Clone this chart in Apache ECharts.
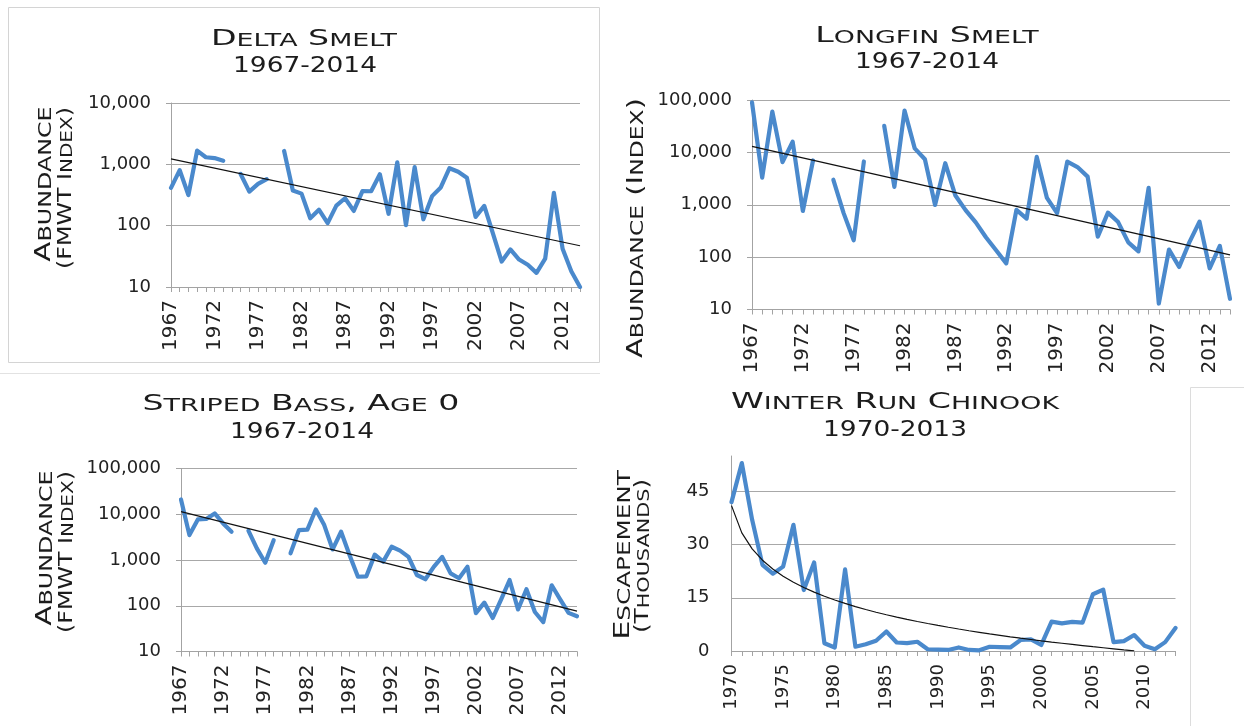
<!DOCTYPE html>
<html>
<head>
<meta charset="utf-8">
<script src="https://cdn.jsdelivr.net/npm/echarts@6/dist/echarts.min.js"></script>
<style>
html,body{margin:0;padding:0;background:#ffffff;}
#chart{width:1244px;height:726px;}
</style>
</head>
<body>
<div id="chart"></div>
<script>
// ---------- categories ----------
const yearsSmelt = [];            // 1967 .. 2014
for (let y = 1967; y <= 2014; y++) yearsSmelt.push(String(y));
const yearsChinook = [];          // 1970 .. 2013
for (let y = 1970; y <= 2013; y++) yearsChinook.push(String(y));

// ---------- series values ----------
const deltaSmelt = [414, 806, 316, 1673, 1303, 1265, 1145, null, 697, 359, 480, 572, null,
  1654, 374, 333, 132, 182, 110, 212, 280, 174, 366, 364, 689, 156, 1078, 102, 899, 127,
  303, 420, 864, 756, 603, 139, 210, 74, 26, 41, 28, 23, 17, 29, 343, 42, 18, 10];
const deltaTrend = [1230, null, null, null, null, null, null, null, null, null, null, null, null,
  null, null, null, null, null, null, null, null, null, null, null, null, null, null, null, null, null,
  null, null, null, null, null, null, null, null, null, null, null, null, null, null, null, null, null, 47];

const longfinSmelt = [90000, 3300, 60000, 6500, 16000, 760, 7000, null, 3000, 700, 210, 6700, null,
  32000, 2200, 63000, 11900, 7400, 990, 6200, 1500, 790, 460, 240, 135, 76, 800, 545, 8200, 1350,
  690, 6650, 5240, 3440, 247, 707, 467, 191, 129, 2100, 13, 139, 65, 191, 477, 61, 164, 16];
const longfinTrend = [13000, null, null, null, null, null, null, null, null, null, null, null, null,
  null, null, null, null, null, null, null, null, null, null, null, null, null, null, null, null, null,
  null, null, null, null, null, null, null, null, null, null, null, null, null, null, null, null, null, 110];

const stripedBass = [21000, 3500, 7700, 7900, 10400, 6300, 4150, null, 4400, 1800, 870, 2700, null,
  1400, 4500, 4600, 12700, 5800, 1700, 4150, 1290, 430, 440, 1310, 920, 1950, 1600, 1170, 470, 380,
  710, 1170, 510, 400, 710, 69, 117, 54, 138, 365, 83, 230, 73, 44, 280, 138, 70, 59];
const stripedTrend = [11400, null, null, null, null, null, null, null, null, null, null, null, null,
  null, null, null, null, null, null, null, null, null, null, null, null, null, null, null, null, null,
  null, null, null, null, null, null, null, null, null, null, null, null, null, null, null, null, null, 76];

const chinook = [42, 53, 37, 24.3, 21.8, 23.8, 35.6, 17.2, 25, 2.2, 1.0, 23, 1.2, 1.9, 2.9, 5.5,
  2.4, 2.2, 2.6, 0.5, 0.4, 0.3, 1.0, 0.3, 0.2, 1.2, 1.1, 1.0, 3.1, 3.3, 1.7, 8.3, 7.8, 8.2, 8.0,
  16, 17.3, 2.5, 2.8, 4.5, 1.5, 0.5, 2.5, 6.5];
const chinookTrend = [41.00, 33.31, 28.81, 25.61, 23.14, 21.11, 19.40, 17.92, 16.61, 15.44, 14.38,
  13.42, 12.53, 11.71, 10.94, 10.22, 9.55, 8.92, 8.32, 7.75, 7.21, 6.69, 6.20, 5.72, 5.27, 4.83,
  4.42, 4.01, 3.62, 3.25, 2.88, 2.53, 2.19, 1.86, 1.54, 1.22, 0.92, 0.62, 0.33, 0.05,
  null, null, null, null];

// ---------- tick labels ----------
const logTickValues = [10, 100, 1000, 10000, 100000];
const logTickLabels = ['10', '100', '1,000', '10,000', '100,000'];
const chinookTickValues = [0, 15, 30, 45];
const chinookTickLabels = ['0', '15', '30', '45'];

// ---------- texts ----------
const titles = [
  ['Delta Smelt', '1967-2014'],
  ['Longfin Smelt', '1967-2014'],
  ['Striped Bass, Age 0', '1967-2014'],
  ['Winter Run Chinook', '1970-2013']
];
const yNames = [
  ['Abundance', '(FMWT Index)'],
  ['Abundance (Index)'],
  ['Abundance', '(FMWT Index)'],
  ['Escapement', '(Thousands)']
];

// ---------- helpers ----------
const FONT = 'DejaVu Sans';
const INK = '#1c1c1c';
function smallCaps(s) {
  let out = '', cur = null, buf = '';
  for (const ch of s) {
    const t = (ch >= 'a' && ch <= 'z') ? 's' : 'b';
    const c = t === 's' ? ch.toUpperCase() : ch;
    if (t !== cur) { if (buf) out += '{' + cur + '|' + buf + '}'; cur = t; buf = c; }
    else buf += c;
  }
  if (buf) out += '{' + cur + '|' + buf + '}';
  return out;
}
function capsText(x, y, s, big, small, sx, rot) {
  return {
    type: 'text', x: x, y: y, rotation: rot || 0, scaleX: sx, silent: true,
    style: {
      text: smallCaps(s),
      rich: {
        b: { fontSize: big, fontFamily: FONT, fill: INK, verticalAlign: 'bottom' },
        s: { fontSize: small, fontFamily: FONT, fill: INK, verticalAlign: 'bottom' }
      },
      fontFamily: FONT, fontSize: big, fill: INK,
      textAlign: 'center', align: 'center', textVerticalAlign: 'middle', verticalAlign: 'middle'
    }
  };
}
function plainText(x, y, s, size, sx, rot) {
  return {
    type: 'text', x: x, y: y, rotation: rot || 0, scaleX: sx, silent: true,
    style: {
      text: s, fontFamily: FONT, fontSize: size, fill: INK,
      textAlign: 'center', align: 'center', textVerticalAlign: 'middle', verticalAlign: 'middle'
    }
  };
}
function logLabel(v) {
  for (let k = 0; k < logTickValues.length; k++) {
    if (Math.abs(v - logTickValues[k]) < 1e-6 * logTickValues[k]) return logTickLabels[k];
  }
  return '';
}
function linLabel(v) {
  const k = chinookTickValues.indexOf(Math.round(v));
  return k >= 0 ? chinookTickLabels[k] : '';
}

const AXIS_GREY = '#a3a3a3';
const GRID_GREY = '#a8a8a8';
const BLUE = '#4a89cc';
const labelStyle = { fontFamily: FONT, fontSize: 18, color: '#222' };

function xAxisFor(idx, cats, size) {
  return {
    type: 'category', gridIndex: idx, data: cats, boundaryGap: false,
    axisLine: { show: true, lineStyle: { color: AXIS_GREY, width: 1 } },
    axisTick: { show: true, interval: 0, length: 5, lineStyle: { color: AXIS_GREY } },
    axisLabel: Object.assign({}, labelStyle, { interval: 4, rotate: 90, margin: 13, fontSize: size }),
    splitLine: { show: false }
  };
}
function logYAxis(idx, max) {
  return {
    type: 'log', gridIndex: idx, logBase: 10, min: 10, max: max,
    axisLine: { show: true, lineStyle: { color: AXIS_GREY } },
    axisTick: { show: true, length: 5, lineStyle: { color: AXIS_GREY } },
    axisLabel: Object.assign({ formatter: logLabel, margin: 20 }, labelStyle),
    splitLine: { show: true, lineStyle: { color: GRID_GREY, width: 1 } }
  };
}
function dataLine(idx, data) {
  return {
    type: 'line', xAxisIndex: idx, yAxisIndex: idx, data: data,
    symbol: 'none', connectNulls: false, clip: true,
    lineStyle: { color: BLUE, width: 4.2, join: 'round', cap: 'round' },
    itemStyle: { color: BLUE }, z: 2, animation: false
  };
}
function trendLine(idx, data) {
  return {
    type: 'line', xAxisIndex: idx, yAxisIndex: idx, data: data,
    symbol: 'none', connectNulls: true, clip: true, smooth: false,
    lineStyle: { color: '#111', width: 1.2 },
    itemStyle: { color: '#111' }, z: 3, animation: false
  };
}

const chart = echarts.init(document.getElementById('chart'), null, { renderer: 'canvas' });

const option = {
  backgroundColor: '#ffffff',
  animation: false,
  grid: [
    { left: 171, top: 103, width: 409, height: 184 },
    { left: 752, top: 100, width: 478, height: 209.5 },
    { left: 181, top: 468.5, width: 396, height: 183 },
    { left: 731.5, top: 456, width: 444, height: 195 }
  ],
  xAxis: [
    xAxisFor(0, yearsSmelt, 20),
    xAxisFor(1, yearsSmelt, 20),
    xAxisFor(2, yearsSmelt, 20),
    xAxisFor(3, yearsChinook, 18)
  ],
  yAxis: [
    logYAxis(0, 10000),
    logYAxis(1, 100000),
    logYAxis(2, 100000),
    {
      type: 'value', gridIndex: 3, min: 0, max: 55, interval: 15,
      axisLine: { show: true, lineStyle: { color: AXIS_GREY } },
      axisTick: { show: false },
      axisLabel: Object.assign({ formatter: linLabel, margin: 22, showMaxLabel: false }, labelStyle),
      splitLine: { show: true, showMaxLine: false, lineStyle: { color: GRID_GREY, width: 1 } }
    }
  ],
  series: [
    dataLine(0, deltaSmelt), trendLine(0, deltaTrend),
    dataLine(1, longfinSmelt), trendLine(1, longfinTrend),
    dataLine(2, stripedBass), trendLine(2, stripedTrend),
    dataLine(3, chinook), trendLine(3, chinookTrend)
  ],
  graphic: [
    // panel frames
    { type: 'rect', silent: true, shape: { x: 8.5, y: 7.5, width: 591, height: 355 },
      style: { fill: null, stroke: '#d4d4d4', lineWidth: 1 } },
    { type: 'line', silent: true, shape: { x1: 0, y1: 373.5, x2: 600, y2: 373.5 },
      style: { stroke: '#e2e2e2', lineWidth: 1 } },
    { type: 'polyline', silent: true, shape: { points: [[1190.5, 726], [1190.5, 387.5], [1244, 387.5]] },
      style: { fill: null, stroke: '#dcdcdc', lineWidth: 1 } },
    // titles
    capsText(304, 40, titles[0][0], 21, 17, 1.58),
    plainText(305, 66, titles[0][1], 22, 1.2),
    capsText(927, 37, titles[1][0], 21, 17, 1.58),
    plainText(927, 62, titles[1][1], 22, 1.2),
    capsText(301, 405, titles[2][0], 21, 17, 1.58),
    plainText(302, 432, titles[2][1], 22, 1.2),
    capsText(895, 403, titles[3][0], 21, 17, 1.58),
    plainText(895, 430, titles[3][1], 22, 1.2),
    // y-axis names
    capsText(45, 184, yNames[0][0], 21, 17, 1.4, Math.PI / 2),
    capsText(66, 188, yNames[0][1], 19, 16, 1.25, Math.PI / 2),
    capsText(637, 228, yNames[1][0], 21, 17, 1.38, Math.PI / 2),
    capsText(46, 548, yNames[2][0], 21, 17, 1.4, Math.PI / 2),
    capsText(67, 552, yNames[2][1], 19, 16, 1.25, Math.PI / 2),
    capsText(624, 555, yNames[3][0], 21, 17, 1.45, Math.PI / 2),
    capsText(643, 556, yNames[3][1], 19, 16, 1.3, Math.PI / 2)
  ]
};
chart.setOption(option);
</script>
</body>
</html>
